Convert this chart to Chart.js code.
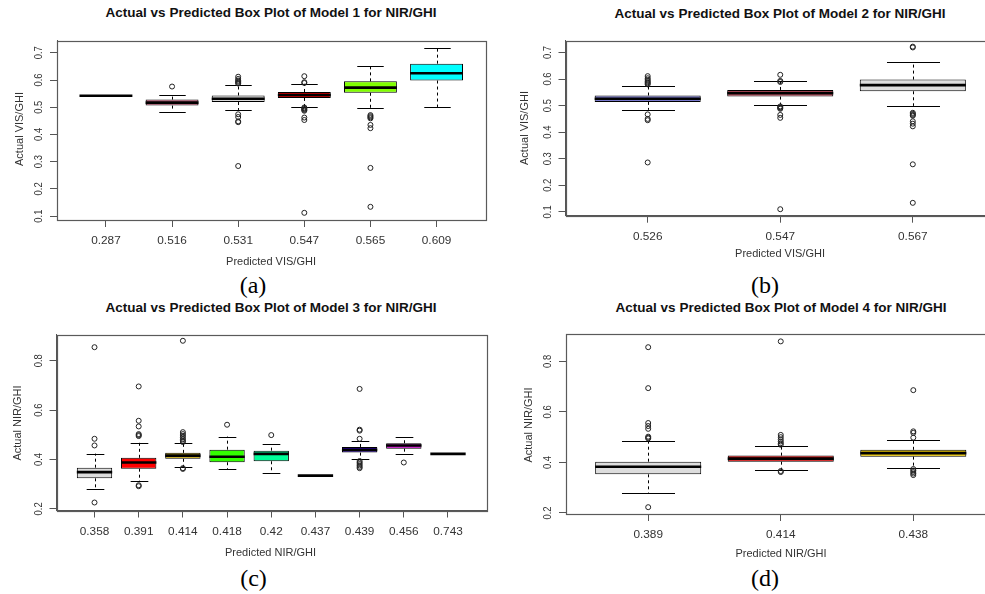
<!DOCTYPE html>
<html><head><meta charset="utf-8">
<script src="https://cdn.jsdelivr.net/npm/chart.js@4"></script>
<style>
html,body{margin:0;padding:0;background:#fff;}
body{width:985px;height:594px;overflow:hidden;position:relative;font-family:"Liberation Sans",Arial,sans-serif;}
canvas{position:absolute;}
.t{position:absolute;transform:translate(-50%,-50%);line-height:1;white-space:nowrap;}
.title{font-weight:bold;font-size:13.5px;color:#111;}
.axt{font-size:11px;color:#333;}
.yt{transform:translate(-50%,-50%) rotate(-90deg);}
.cap{font-family:"Liberation Serif","Times New Roman",serif;font-size:24px;color:#000;}
</style></head><body>
<script>
// ---------- Panel (a): Model 1 ----------
const catsA  = ['0.287','0.516','0.531','0.547','0.565','0.609'];
const lowA   = [0.542, 0.484, 0.490, 0.501, 0.496, 0.501];
const q1A    = [0.542, 0.506, 0.519, 0.534, 0.553, 0.598];
const medA   = [0.542, 0.517, 0.531, 0.545, 0.572, 0.625];
const q3A    = [0.542, 0.528, 0.543, 0.556, 0.595, 0.660];
const highA  = [0.542, 0.545, 0.583, 0.586, 0.651, 0.718];
const outA   = [
  [],
  [0.576],
  [0.612, 0.604, 0.598, 0.594, 0.590, 0.587, 0.474, 0.464, 0.448, 0.445, 0.284],
  [0.614, 0.592, 0.589, 0.499, 0.496, 0.493, 0.490, 0.487, 0.462, 0.453, 0.112],
  [0.471, 0.467, 0.463, 0.459, 0.435, 0.423, 0.277, 0.134],
  []
];
const colorsA = ['#000000','#CC5577','#D9D9D9','#DD0000','#80FF00','#00FFFF'];

// ---------- Panel (b): Model 2 ----------
const catsB  = ['0.526','0.547','0.567'];
const lowB   = [0.484, 0.504, 0.499];
const q1B    = [0.514, 0.534, 0.554];
const medB   = [0.526, 0.547, 0.577];
const q3B    = [0.538, 0.559, 0.598];
const highB  = [0.575, 0.591, 0.665];
const outB   = [
  [0.611, 0.603, 0.597, 0.592, 0.588, 0.584, 0.580, 0.467, 0.450, 0.445, 0.286],
  [0.616, 0.593, 0.589, 0.497, 0.494, 0.491, 0.488, 0.465, 0.454, 0.110],
  [0.722, 0.719, 0.473, 0.469, 0.465, 0.462, 0.441, 0.432, 0.422, 0.279, 0.134]
];
const colorsB = ['#7777CC','#CC5566','#DDDDDD'];

// ---------- Panel (c): Model 3 ----------
const catsC  = ['0.358','0.391','0.414','0.418','0.42','0.437','0.439','0.456','0.743'];
const lowC   = [0.281, 0.312, 0.368, 0.361, 0.346, 0.335, 0.403, 0.424, 0.423];
const q1C    = [0.324, 0.363, 0.403, 0.389, 0.393, 0.335, 0.428, 0.444, 0.423];
const medC   = [0.349, 0.388, 0.416, 0.411, 0.423, 0.335, 0.439, 0.457, 0.423];
const q3C    = [0.367, 0.407, 0.427, 0.440, 0.436, 0.335, 0.451, 0.466, 0.423];
const highC  = [0.424, 0.469, 0.465, 0.493, 0.461, 0.335, 0.474, 0.491, 0.423];
const outC   = [
  [0.855, 0.484, 0.457, 0.226],
  [0.696, 0.557, 0.534, 0.503, 0.499, 0.495, 0.296, 0.292],
  [0.881, 0.511, 0.503, 0.496, 0.489, 0.482, 0.476, 0.471, 0.365, 0.362],
  [0.541],
  [0.499],
  [],
  [0.686, 0.521, 0.517, 0.484, 0.394, 0.388, 0.382, 0.376, 0.370, 0.365],
  [0.388],
  []
];
const colorsC = ['#DDDDDD','#FF0000','#CCAA00','#33FF00','#00FF99','#000000','#3300CC','#CC00CC','#000000'];

// ---------- Panel (d): Model 4 ----------
const catsD  = ['0.389','0.414','0.438'];
const lowD   = [0.280, 0.369, 0.379];
const q1D    = [0.353, 0.403, 0.423];
const medD   = [0.383, 0.415, 0.437];
const q3D    = [0.403, 0.427, 0.450];
const highD  = [0.484, 0.464, 0.489];
const outD   = [
  [0.856, 0.694, 0.556, 0.544, 0.533, 0.502, 0.498, 0.495, 0.223],
  [0.879, 0.509, 0.500, 0.491, 0.483, 0.476, 0.470, 0.366, 0.362],
  [0.686, 0.523, 0.517, 0.498, 0.374, 0.368, 0.362, 0.356, 0.350]
];
const colorsD = ['#DDDDDD','#DD0000','#EEC900'];

// ---------- tick labels ----------
const yTicksVIS = [0.1, 0.2, 0.3, 0.4, 0.5, 0.6, 0.7];
const yTicksNIR = [0.2, 0.4, 0.6, 0.8];

const FONT = '"Liberation Sans", Arial, sans-serif';

function makePanel(cfg){
  const cv = document.createElement('canvas');
  cv.width = cfg.cW; cv.height = cfg.cH;
  cv.style.left = cfg.cL + 'px'; cv.style.top = cfg.cT + 'px';
  cv.style.width = cfg.cW + 'px'; cv.style.height = cfg.cH + 'px';
  document.body.appendChild(cv);
  const n = cfg.cats.length;
  const yAxisW = cfg.pL - cfg.cL;
  const padTop = cfg.pT - cfg.cT;
  const xAxisH = cfg.cT + cfg.cH - cfg.pB;
  const padRight = cfg.cL + cfg.cW - cfg.pR;
  const boxes = cfg.cats.map((c, i) => ({x: i + 1, y: [cfg.q1[i], cfg.q3[i]]}));
  const outs = [];
  cfg.outs.forEach((arr, i) => arr.forEach(v => outs.push({x: i + 1, y: v})));

  const plugin = {
    id: 'boxdraw' + cfg.id,
    beforeDatasetsDraw(chart){
      const ctx = chart.ctx, x = chart.scales.x, y = chart.scales.y;
      ctx.save();
      ctx.strokeStyle = '#000'; ctx.lineWidth = 1;
      for (let i = 0; i < n; i++){
        const cx = Math.round(x.getPixelForValue(i + 1)) + 0.5;
        const hw = x.getPixelForValue(i + 1.2) - x.getPixelForValue(i + 1);
        ctx.setLineDash([3, 3]);
        ctx.beginPath();
        if (cfg.high[i] > cfg.q3[i]){ ctx.moveTo(cx, y.getPixelForValue(cfg.q3[i])); ctx.lineTo(cx, y.getPixelForValue(cfg.high[i])); }
        if (cfg.low[i] < cfg.q1[i]){ ctx.moveTo(cx, y.getPixelForValue(cfg.q1[i])); ctx.lineTo(cx, y.getPixelForValue(cfg.low[i])); }
        ctx.stroke();
        ctx.setLineDash([]);
        ctx.beginPath();
        if (cfg.high[i] > cfg.q3[i]){ const py = Math.round(y.getPixelForValue(cfg.high[i])) + 0.5; ctx.moveTo(cx - hw, py); ctx.lineTo(cx + hw, py); }
        if (cfg.low[i] < cfg.q1[i]){ const py = Math.round(y.getPixelForValue(cfg.low[i])) + 0.5; ctx.moveTo(cx - hw, py); ctx.lineTo(cx + hw, py); }
        ctx.stroke();
      }
      ctx.restore();
    },
    afterDatasetsDraw(chart){
      const ctx = chart.ctx, x = chart.scales.x, y = chart.scales.y;
      ctx.save();
      ctx.strokeStyle = '#000'; ctx.lineWidth = 2.6; ctx.lineCap = 'butt';
      for (let i = 0; i < n; i++){
        const py = y.getPixelForValue(cfg.med[i]);
        ctx.beginPath();
        ctx.moveTo(x.getPixelForValue(i + 0.6), py);
        ctx.lineTo(x.getPixelForValue(i + 1.4), py);
        ctx.stroke();
      }
      ctx.restore();
    },
    afterDraw(chart){
      const ctx = chart.ctx, a = chart.chartArea, y = chart.scales.y;
      ctx.save();
      ctx.strokeStyle = '#5a5a5a'; ctx.lineWidth = 1.2;
      ctx.strokeRect(Math.round(a.left) + 0.5, Math.round(a.top) + 0.5, Math.round(a.right - a.left), Math.round(a.bottom - a.top));
      ctx.fillStyle = '#333'; ctx.font = '11.5px ' + FONT;
      ctx.textAlign = 'center'; ctx.textBaseline = 'alphabetic';
      cfg.yTicks.forEach(v => {
        ctx.save();
        ctx.translate(a.left - 15, y.getPixelForValue(v));
        ctx.rotate(-Math.PI / 2);
        ctx.scale(0.82, 1);
        ctx.fillText(String(v), 0, 0);
        ctx.restore();
      });
      ctx.restore();
    }
  };

  new Chart(cv, {
    type: 'bar',
    data: {datasets: [
      {type: 'bar', data: boxes, backgroundColor: cfg.colors, borderColor: '#000', borderWidth: 1,
       borderSkipped: false, categoryPercentage: 1, barPercentage: 0.8, grouped: false, order: 2},
      {type: 'scatter', data: outs, pointStyle: 'circle', pointRadius: 2.5, pointBorderWidth: 1,
       pointBorderColor: '#222', pointBackgroundColor: 'rgba(0,0,0,0)', borderColor: '#222',
       backgroundColor: 'rgba(0,0,0,0)', order: 1}
    ]},
    options: {
      responsive: false, animation: false, devicePixelRatio: 1,
      layout: {padding: {left: 0, top: padTop, right: padRight, bottom: 0}},
      plugins: {legend: {display: false}, tooltip: {enabled: false}, title: {display: false}},
      scales: {
        x: {
          type: 'linear', min: 0.5 - 0.04 * n, max: n + 0.5 + 0.04 * n, offset: false,
          grid: {offset: false, drawOnChartArea: false, drawTicks: true, tickLength: 7, color: '#555'},
          border: {display: true, color: '#555'},
          ticks: {autoSkip: false, maxRotation: 0, minRotation: 0, padding: 7, color: '#333',
                  font: {family: FONT, size: 11.8},
                  callback: (v) => cfg.cats[Math.round(v) - 1]},
          afterBuildTicks: (s) => { s.ticks = cfg.cats.map((_, i) => ({value: i + 1})); },
          afterFit: (s) => { s.height = xAxisH; }
        },
        y: {
          type: 'linear', min: cfg.yMin, max: cfg.yMax, beginAtZero: false,
          grid: {drawOnChartArea: false, drawTicks: true, tickLength: 7, color: '#555'},
          border: {display: true, color: '#555'},
          ticks: {display: false},
          afterBuildTicks: (s) => { s.ticks = cfg.yTicks.map(v => ({value: v})); },
          afterFit: (s) => { s.width = yAxisW; }
        }
      }
    },
    plugins: [plugin]
  });
}

makePanel({id:'a', cL:0, cT:30, cW:495, cH:230, pL:57, pT:40.7, pR:485.5, pB:220,
  cats:catsA, low:lowA, q1:q1A, med:medA, q3:q3A, high:highA, outs:outA, colors:colorsA,
  yMin:0.0856, yMax:0.7444, yTicks:yTicksVIS});
makePanel({id:'b', cL:495, cT:30, cW:510, cH:230, pL:565.5, pT:40.7, pR:995, pB:215.7,
  cats:catsB, low:lowB, q1:q1B, med:medB, q3:q3B, high:highB, outs:outB, colors:colorsB,
  yMin:0.0856, yMax:0.7444, yTicks:yTicksVIS});
makePanel({id:'c', cL:0, cT:325, cW:495, cH:225, pL:56.5, pT:334.5, pR:486, pB:510.5,
  cats:catsC, low:lowC, q1:q1C, med:medC, q3:q3C, high:highC, outs:outC, colors:colorsC,
  yMin:0.1936, yMax:0.9064, yTicks:yTicksNIR});
makePanel({id:'d', cL:495, cT:325, cW:510, cH:225, pL:566, pT:334.3, pR:995.5, pB:514,
  cats:catsD, low:lowD, q1:q1D, med:medD, q3:q3D, high:highD, outs:outD, colors:colorsD,
  yMin:0.196, yMax:0.907, yTicks:yTicksNIR});

// ---------- texts ----------
const texts = [
  ['title', 271, 13, 'Actual vs Predicted Box Plot of Model 1 for NIR/GHI'],
  ['title', 780, 13.5, 'Actual vs Predicted Box Plot of Model 2 for NIR/GHI'],
  ['title', 271, 308, 'Actual vs Predicted Box Plot of Model 3 for NIR/GHI'],
  ['title', 781, 308, 'Actual vs Predicted Box Plot of Model 4 for NIR/GHI'],
  ['axt', 271, 260.5, 'Predicted VIS/GHI'],
  ['axt', 780, 252.5, 'Predicted VIS/GHI'],
  ['axt', 270.5, 552, 'Predicted NIR/GHI'],
  ['axt', 781, 552.5, 'Predicted NIR/GHI'],
  ['axt yt', 18.5, 129, 'Actual VIS/GHI'],
  ['axt yt', 523.5, 127.5, 'Actual VIS/GHI'],
  ['axt yt', 17, 422.5, 'Actual NIR/GHI'],
  ['axt yt', 527.5, 424.5, 'Actual NIR/GHI'],
  ['cap', 253, 285, '(a)'],
  ['cap', 765, 285, '(b)'],
  ['cap', 253.5, 577.5, '(c)'],
  ['cap', 765, 577.5, '(d)']
];
texts.forEach(([cls, x, y, s]) => {
  const d = document.createElement('div');
  d.className = 't ' + cls;
  d.style.left = x + 'px'; d.style.top = y + 'px';
  d.textContent = s;
  document.body.appendChild(d);
});
</script>
</body></html>
